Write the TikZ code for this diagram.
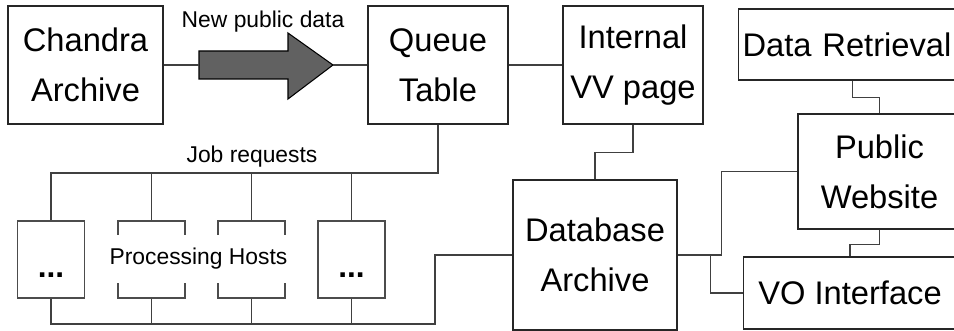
\documentclass[tikz,border=0pt]{standalone}
\usepackage{fontspec}
\setmainfont{Liberation Sans}
\usepackage{tikz}
\usetikzlibrary{positioning}
\tikzstyle{block} = [rectangle, align=center, draw=black!85, line width=0.6pt, fill=white, font=\fontsize{18.6}{28.5}\selectfont]
\tikzstyle{host} = [rectangle, draw=black!70, line width=0.6pt, fill=white, minimum width=1.34cm, minimum height=1.54cm, text height=20pt, text depth=0pt, font=\fontsize{18}{20}\selectfont\bfseries]
\tikzstyle{note} = [font=\fontsize{13}{15}\selectfont]
\tikzstyle{link} = [draw=black!75, line width=0.6pt]

\begin{document}
\begin{tikzpicture}[x=0.02cm,y=-0.02cm]
                \useasboundingbox (0,0) rectangle (954,331);
                \clip (0,0) rectangle (954,331);
                \node (chandra) [block, minimum width=3.1cm, minimum height=2.36cm] at (85.5,65) {Chandra\\Archive};
                \node (queue) [block, minimum width=2.8cm, minimum height=2.36cm] at (438,65) {Queue\\Table};
                \node (internal) [block, minimum width=2.8cm, minimum height=2.36cm] at (633,65) {Internal\\VV page};
                \node (retrieval) [block, anchor=west, text width=4.4cm, inner xsep=0.08cm, align=left, minimum height=1.42cm] at (738,44.5) {Data Retrieval};
                \node (website) [block, minimum width=3.26cm, minimum height=2.3cm] at (879.5,171.5) {Public\\Website};
                \node (database) [block, minimum width=3.28cm, minimum height=3.0cm] at (595,255) {Database\\Archive};
                \node (vo) [block, minimum width=4.28cm, minimum height=1.44cm] at (850,293) {VO Interface};
                \node (hostA) [host] at (51,259.5) {...};
                \node (hostB) [host] at (151.5,259.5) {};
                \node (hostC) [host] at (251.5,259.5) {};
                \node (hostD) [host] at (351.5,259.5) {...};
                \node (hosts) [note, fill=white, minimum width=4.14cm, minimum height=0.96cm] at (198.5,259) {Processing Hosts};
                \node (newdata) [note] at (263,22) {New public data};
                \node (jobs) [note] at (252,157) {Job requests};
                \coordinate (flowin) at (199,65);
                \coordinate (flowtip) at (333,65);
                \coordinate (jobbus) at (51,173);
                \coordinate (outbus) at (51,324);
                \draw [black, line width=0.6pt, fill=black!62] (flowin) -- ++(0,-14) -- ++(89,0) -- ++(0,-18) -- (flowtip) -- ++(-45,34) -- ++(0,-20) -- ++(-89,0) -- cycle;
                \draw [link] (chandra) -- (flowin);
                \draw [link] (flowtip) -- (queue);
                \draw [link] (queue) -- (internal);
                \draw [link] (queue.south) |- (jobbus) -- (hostA.north);
                \draw [link] (hostB.north) -- (hostB.north |- jobbus);
                \draw [link] (hostC.north) -- (hostC.north |- jobbus);
                \draw [link] (hostD.north) -- (hostD.north |- jobbus);
                \draw [link] (hostA.south) -- (outbus) -| (435,255) -- (database.west);
                \draw [link] (hostB.south) -- (hostB.south |- outbus);
                \draw [link] (hostC.south) -- (hostC.south |- outbus);
                \draw [link] (hostD.south) -- (hostD.south |- outbus);
                \draw [link] (internal.south) -- ++(0,28) -| (database.north);
                \draw [link] (database.east) -- ++(44,0) |- (website.west);
                \draw [link] (database.east) -- ++(33,0) |- (vo.west);
                \draw [link] (retrieval.south) -- ++(0,17) -| (website.north);
                \draw [link] (website.south) -- ++(0,15) -| (vo.north);
            \end{tikzpicture}
\end{document}
